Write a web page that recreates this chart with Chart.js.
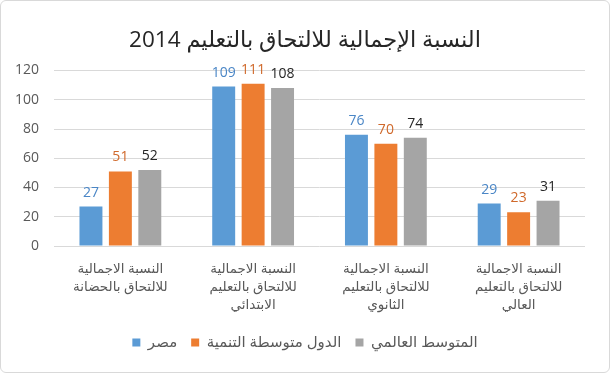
<!DOCTYPE html>
<html>
<head>
<meta charset="utf-8">
<script src="https://cdn.jsdelivr.net/npm/chart.js@4.4.1/dist/chart.umd.min.js"></script>
<style>
  html, body { margin: 0; padding: 0; background: #fff; }
  #wrap { position: relative; width: 610px; height: 373px; }
  #frame { position: absolute; left: 0; top: 0; width: 608px; height: 371px; border: 1px solid #d9d9d9; border-radius: 6px; pointer-events: none; }
</style>
</head>
<body>
<div id="wrap">
  <canvas id="c" width="610" height="373"></canvas>
  <div id="frame"></div>
</div>
<script>
const titleText = 'النسبة الإجمالية للالتحاق بالتعليم 2014';
const categories = [
  ['النسبة الاجمالية', 'للالتحاق بالحضانة'],
  ['النسبة الاجمالية', 'للالتحاق بالتعليم', 'الابتدائي'],
  ['النسبة الاجمالية', 'للالتحاق بالتعليم', 'الثانوي'],
  ['النسبة الاجمالية', 'للالتحاق بالتعليم', 'العالي']
];
const seriesNames = ['مصر', 'الدول متوسطة التنمية', 'المتوسط العالمي'];
const egypt = [27, 109, 76, 29];
const medium = [51, 111, 70, 23];
const world = [52, 108, 74, 31];
const yTicks = [0, 20, 40, 60, 80, 100, 120];

const FONT = '"Segoe UI", "Open Sans", "DejaVu Sans", sans-serif';
const barColors = ['#5B9BD5', '#ED7D31', '#A5A5A5'];
const labelColors = ['#4A86C6', '#D0692B', '#262626'];

const dataLabels = {
  id: 'dataLabels',
  afterDatasetsDraw(chart) {
    const ctx = chart.ctx;
    ctx.save();
    ctx.font = '14px ' + FONT;
    ctx.textAlign = 'center';
    ctx.textBaseline = 'alphabetic';
    chart.data.datasets.forEach((ds, i) => {
      const meta = chart.getDatasetMeta(i);
      ctx.fillStyle = labelColors[i];
      meta.data.forEach((el, j) => {
        ctx.fillText(String(ds.data[j]), el.x, el.y - 10);
      });
    });
    ctx.restore();
  }
};

new Chart(document.getElementById('c'), {
  type: 'bar',
  data: {
    labels: categories,
    datasets: [
      { label: seriesNames[0], data: egypt, backgroundColor: barColors[0] },
      { label: seriesNames[1], data: medium, backgroundColor: barColors[1] },
      { label: seriesNames[2], data: world, backgroundColor: barColors[2] }
    ]
  },
  options: {
    responsive: false,
    animation: false,
    devicePixelRatio: 1,
    layout: { padding: { left: 0, right: 0, top: 0, bottom: 13 } },
    datasets: { bar: { categoryPercentage: 0.665, barPercentage: 0.78 } },
    plugins: {
      title: {
        display: true,
        text: titleText,
        color: '#262626',
        font: { family: FONT, size: 22.5, weight: 'normal', lineHeight: 1.2 },
        padding: { top: 27, bottom: 16.5 }
      },
      legend: {
        position: 'bottom',
        labels: {
          color: '#595959',
          font: { family: FONT, size: 15 },
          boxWidth: 8, boxHeight: 8, padding: 14
        }
      },
      tooltip: { enabled: false }
    },
    scales: {
      x: {
        grid: { display: false, drawTicks: false },
        border: { display: false },
        ticks: {
          color: '#595959',
          font: { family: FONT, size: 13.5, lineHeight: 1.35 },
          padding: 14,
          maxRotation: 0, autoSkip: false
        },
        afterFit(s) { s.height = 75; }
      },
      y: {
        min: 0, max: 120,
        afterBuildTicks(s) { s.ticks = yTicks.map(v => ({ value: v })); },
        grid: { color: '#d9d9d9', drawTicks: false },
        border: { display: false },
        ticks: {
          color: '#595959',
          font: { family: FONT, size: 14 },
          padding: 15
        },
        afterFit(s) { s.width = 54; }
      },
      yRight: {
        position: 'right',
        display: true,
        min: 0, max: 120,
        grid: { display: false, drawTicks: false },
        border: { display: false },
        ticks: { display: false },
        afterFit(s) { s.width = 25; }
      }
    }
  },
  plugins: [dataLabels]
});
</script>
</body>
</html>
